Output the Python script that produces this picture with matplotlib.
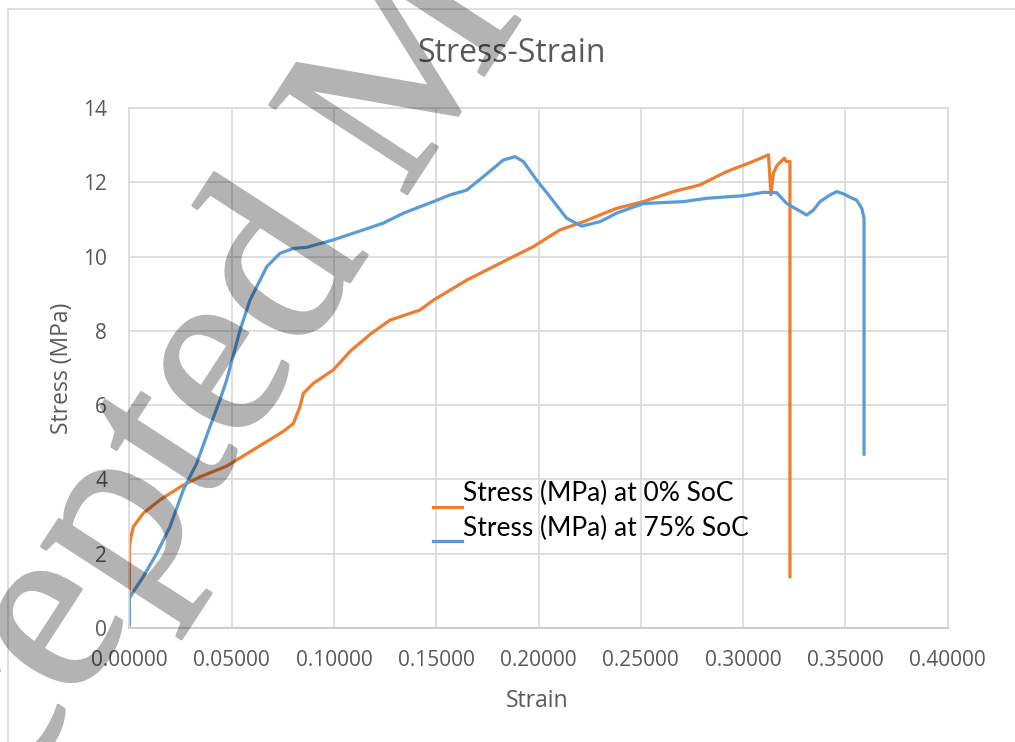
import numpy as np
import matplotlib
matplotlib.use("Agg")
import matplotlib.pyplot as plt
import matplotlib.patheffects as pe
from matplotlib.patches import Rectangle
from matplotlib.lines import Line2D
from matplotlib.legend_handler import HandlerLine2D

# strain / stress readings, 0% state of charge
strain_0 = [0.0, 0.0, 0.0, 0.0, 0.001, 0.002, 0.0068, 0.015, 0.0264, 0.0346,
            0.0476, 0.0672, 0.0760, 0.0802, 0.0834, 0.0851, 0.090, 0.0997,
            0.1079, 0.1180, 0.1274, 0.142, 0.1487, 0.165, 0.1812, 0.1975,
            0.2105, 0.2219, 0.2382, 0.2512, 0.2659, 0.2789, 0.2920, 0.3034,
            0.3124, 0.3136, 0.3148, 0.3165, 0.3189, 0.3202, 0.3210, 0.3229,
            0.3229]
stress_0 = [0.08, 1.0, 1.75, 2.2, 2.5, 2.73, 3.09, 3.45, 3.85, 4.07,
            4.36, 5.02, 5.32, 5.51, 5.96, 6.32, 6.59, 6.95,
            7.45, 7.92, 8.29, 8.56, 8.83, 9.37, 9.82, 10.27,
            10.72, 10.94, 11.30, 11.48, 11.75, 11.93, 12.29, 12.53,
            12.74, 11.66, 12.24, 12.45, 12.58, 12.65, 12.56, 12.56,
            1.38]

# strain / stress readings, 75% state of charge
strain_75 = [0.0, 0.0, 0.002, 0.0068, 0.0134, 0.0199, 0.0264, 0.0329, 0.0394,
             0.0443, 0.0476, 0.0541, 0.059, 0.0672, 0.0737, 0.0802, 0.0867,
             0.0997, 0.1095, 0.1241, 0.134, 0.1486, 0.1567, 0.1649, 0.173,
             0.1828, 0.1885, 0.1926, 0.1991, 0.2056, 0.2138, 0.2211, 0.2301,
             0.2382, 0.2512, 0.2708, 0.2822, 0.3001, 0.3099, 0.3164, 0.3213,
             0.3311, 0.3343, 0.3376, 0.3425, 0.3458, 0.349, 0.3522, 0.3555,
             0.358, 0.3591, 0.3591]
stress_75 = [0.13, 0.8, 0.98, 1.38, 2.01, 2.73, 3.72, 4.43, 5.42,
             6.14, 6.68, 8.02, 8.83, 9.73, 10.09, 10.22, 10.25,
             10.45, 10.63, 10.90, 11.17, 11.48, 11.66, 11.79, 12.15,
             12.60, 12.69, 12.56, 12.06, 11.61, 11.03, 10.82, 10.94,
             11.17, 11.43, 11.48, 11.57, 11.64, 11.73, 11.72, 11.43,
             11.12, 11.25, 11.48, 11.66, 11.75, 11.69, 11.60, 11.52,
             11.30, 11.03, 4.68]

labels = ["Stress (MPa) at 0% SoC", "Stress (MPa) at 75% SoC"]
xticks = [0.0, 0.05, 0.10, 0.15, 0.20, 0.25, 0.30, 0.35, 0.40]
yticks = [0, 2, 4, 6, 8, 10, 12, 14]

plt.rcParams['font.family'] = ['Open Sans', 'DejaVu Sans']
grey = '#595959'
gridc = '#d9d9d9'


# legend line sits low, near the text baseline
class LowLine(HandlerLine2D):
    def create_artists(self, legend, orig_handle, xdescent, ydescent,
                       width, height, fontsize, trans):
        return super().create_artists(legend, orig_handle, xdescent,
                                      ydescent + 1.1 * fontsize, width,
                                      height, fontsize, trans)


# fade the whole watermark at once so outline and fill don't stack
def fade(im, dpi):
    im = im.copy()
    im[..., 3] = im[..., 3] * 0.3
    return im, 0, 0


fig = plt.figure(figsize=(10.15, 7.42), dpi=100)
ax = fig.add_axes([0.1274, 0.1536, 0.8063, 0.7008])

ax.plot(strain_0, stress_0, color='#ED7D31', lw=2.3, label=labels[0])
ax.plot(strain_75, stress_75, color='#5B9BD5', lw=2.3, label=labels[1])

ax.set_xlim(0, 0.4)
ax.set_ylim(0, 14)
ax.set_xticks(xticks)
ax.set_xticklabels(["%.5f" % t for t in xticks])
ax.set_yticks(yticks)
ax.tick_params(length=0, labelsize=15, labelcolor=grey)
ax.tick_params(axis='x', pad=16)
ax.tick_params(axis='y', pad=16)
ax.grid(True, color=gridc, lw=1.2)
ax.set_axisbelow(True)
for s in ax.spines.values():
    s.set_color(gridc)
    s.set_linewidth(1.2)
ax.spines['bottom'].set_color('#c8c8c8')

ax.set_xlabel("Strain", fontsize=16.5, color=grey, va='center')
ax.set_ylabel("Stress (MPa)", fontsize=16.5, color=grey, va='center')
ax.xaxis.set_label_coords(0.498, -0.1400)
ax.yaxis.set_label_coords(-0.0822, 0.5)
fig.text(512 / 1015, 1 - 53 / 742, "Stress-Strain", ha='center',
         va='center', fontsize=23, color=grey)

ax.legend(loc='upper left', bbox_to_anchor=(0.371, 0.2824), frameon=False,
          prop={'family': 'Lato', 'size': 19}, handlelength=1.1,
          handletextpad=0.05, labelspacing=0.37, borderpad=0,
          borderaxespad=0, handler_map={Line2D: LowLine()})

# chart area border
fig.patches.append(Rectangle((8 / 1015, -0.1), 1.2, 1 - 9 / 742 + 0.1,
                             transform=fig.transFigure, fill=False,
                             edgecolor=gridc, lw=1.2))

# watermark
wm = fig.text(-145 / 1015, 1 - 1044 / 742, "Accepted Manuscript",
              family='Liberation Serif', fontsize=180, color='black',
              rotation=57, rotation_mode='anchor', ha='left',
              va='baseline', zorder=10,
              path_effects=[pe.withStroke(linewidth=2, foreground='black')])
wm.set_agg_filter(fade)

fig.savefig("out.png", dpi=100)
